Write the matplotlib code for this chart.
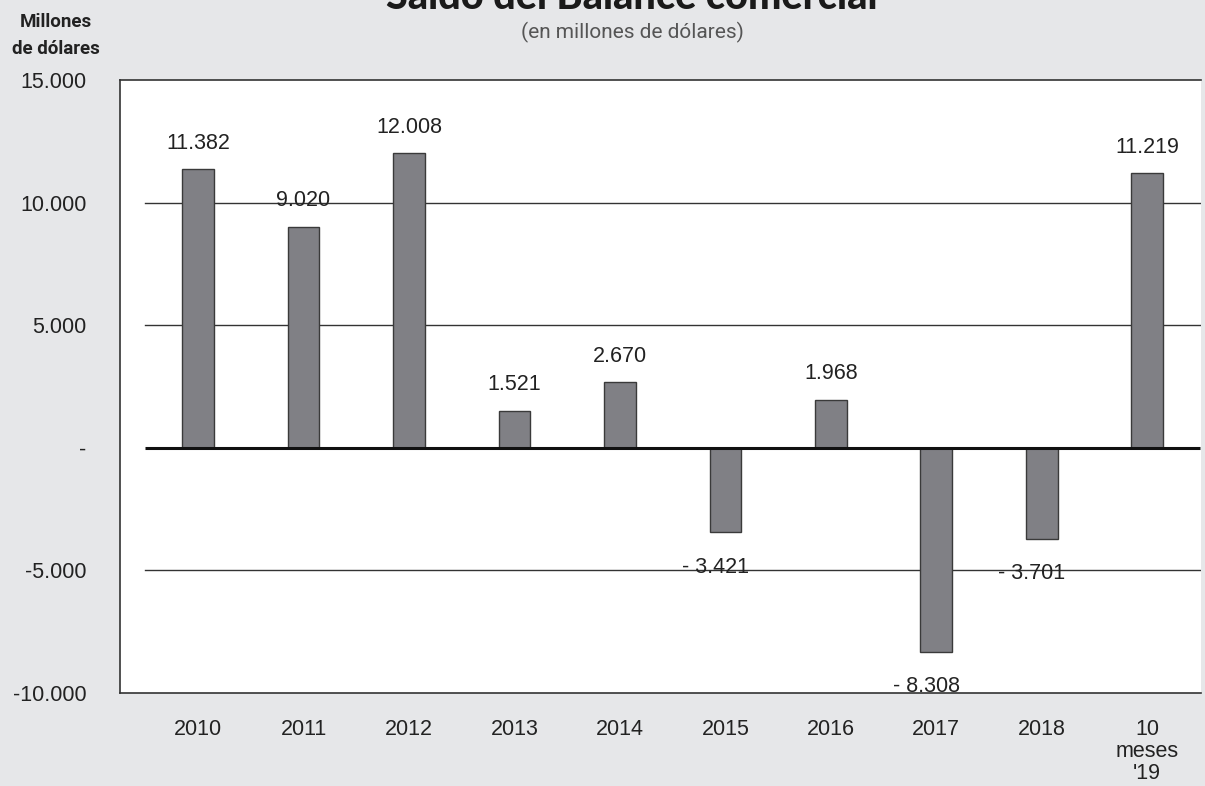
import matplotlib
matplotlib.use("Agg")
import matplotlib.pyplot as plt
from matplotlib import font_manager

categories = ["2010", "2011", "2012", "2013", "2014", "2015", "2016", "2017", "2018", "10\nmeses\n'19"]
saldo = [11382, 9020, 12008, 1521, 2670, -3421, 1968, -8308, -3701, 11219]
y_ticks = [15000, 10000, 5000, 0, -5000, -10000]
y_tick_labels = ["15.000", "10.000", "5.000", "-", "-5.000", "-10.000"]

names = {f.name for f in font_manager.fontManager.ttflist}
narrow = "Liberation Sans Narrow" if "Liberation Sans Narrow" in names else "Roboto"
regular = "Liberation Sans"

BG = "#e6e7e9"
BAR = "#808085"
DARK = "#222222"

W, H = 1205, 786
fig = plt.figure(figsize=(W / 100, H / 100), dpi=100, facecolor=BG)
ax = fig.add_axes([120 / W, 1 - 693 / H, (1201 - 120) / W, (693 - 80) / H])
ax.set_facecolor("white")

x = list(range(len(categories)))
ax.set_xlim(-0.74, 9.51)
ax.set_ylim(-10000, 15000)

# horizontal grid; the zero line sits on top of the bars
for v in y_ticks:
    if v in (15000, -10000):
        continue
    if v == 0:
        ax.plot([-0.5, 9.5], [0, 0], color="#111111", lw=2.2, zorder=4, solid_capstyle="butt")
    else:
        ax.plot([-0.5, 9.5], [v, v], color="#333333", lw=1.0, zorder=1)

ax.bar(x, saldo, width=0.30, color=BAR, edgecolor="#3a3a3a", linewidth=1.0, zorder=3)

for xi, v in zip(x, saldo):
    txt = f"{abs(v):,}".replace(",", ".")
    if v < 0:
        txt = "- " + txt
    off = (0, 18.5) if v >= 0 else (-7, -25.5)
    ax.annotate(txt, (xi, v), xytext=off, textcoords="offset points",
                ha="center", va="center", fontsize=15.5, family=regular, color=DARK, zorder=5)

ax.set_yticks(y_ticks)
ax.set_yticklabels(y_tick_labels, family=regular, fontsize=15.5, color=DARK)
ax.set_xticks(x)
ax.set_xticklabels(categories, family=regular, fontsize=15.5, color=DARK, linespacing=1.05)
ax.tick_params(axis="y", length=0, pad=24)
ax.tick_params(axis="x", length=0, pad=19)
for lbl in ax.get_xticklabels():
    lbl.set_verticalalignment("top")

for side in ("left", "top", "bottom"):
    ax.spines[side].set_color("#333333")
    ax.spines[side].set_linewidth(1.2)
ax.spines["right"].set_visible(False)

fig.text(632 / W, 1 - 9 / H, "Saldo del Balance comercial", ha="center", va="baseline",
         fontsize=28.5, fontweight="black", family="Lato", color="#1a1a1a")
fig.text(632 / W, 1 - 32 / H, "(en millones de dólares)", ha="center", va="center",
         fontsize=15, family=narrow, color="#555555")
fig.text(56 / W, 1 - 22 / H, "Millones", ha="center", va="center",
         fontsize=13.5, fontweight="bold", family=narrow, color=DARK)
fig.text(56 / W, 1 - 49 / H, "de dólares", ha="center", va="center",
         fontsize=13.5, fontweight="bold", family=narrow, color=DARK)

fig.savefig("out.png", dpi=100, facecolor=BG)
